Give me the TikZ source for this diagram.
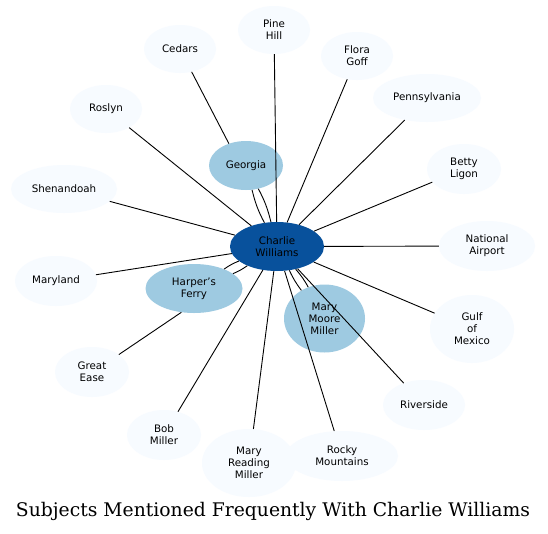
\documentclass[tikz,border=0pt]{standalone}
\usepackage{fontspec}
\setmainfont{DejaVu Sans}
\newfontfamily\titlefont{DejaVu Serif}
\definecolor{lightnode}{HTML}{F7FBFF}
\definecolor{midnode}{HTML}{9ECAE1}
\definecolor{darknode}{HTML}{08519C}
\begin{document}
\begin{tikzpicture}[x=1pt,y=-1pt,
  subj/.style={ellipse, fill=lightnode, inner sep=0pt, align=center,
    font=\fontsize{10.3}{12}\selectfont, text=black},
  midsubj/.style={subj, fill=midnode},
  hub/.style={subj, fill=darknode},
  link/.style={draw=black, line width=0.9pt}]
\usetikzlibrary{shapes.geometric}
\useasboundingbox (0,0) rectangle (548,533);
\fill[white] (0,0) rectangle (548,533);
% nodes
\node[subj, minimum width=72pt, minimum height=48pt] (pine) at (274,30) {Pine\\Hill};
\node[subj, minimum width=72pt, minimum height=48pt] (cedars) at (180,49) {Cedars};
\node[subj, minimum width=72pt, minimum height=48pt] (flora) at (357,56) {Flora\\Goff};
\node[subj, minimum width=108pt, minimum height=48pt] (penn) at (427,98) {Pennsylvania};
\node[subj, minimum width=72pt, minimum height=48pt] (roslyn) at (106,109) {Roslyn};
\node[subj, minimum width=74pt, minimum height=50pt] (betty) at (464,169) {Betty\\Ligon};
\node[subj, minimum width=106pt, minimum height=48pt] (shen) at (64,189) {Shenandoah};
\node[subj, minimum width=96pt, minimum height=50pt] (natl) at (487,246) {National\\Airport};
\node[subj, minimum width=82pt, minimum height=50pt] (maryland) at (56,281) {Maryland};
\node[subj, minimum width=84pt, minimum height=68pt] (gulf) at (472,329) {Gulf\\of\\Mexico};
\node[subj, minimum width=74pt, minimum height=50pt] (great) at (92,372) {Great\\Ease};
\node[subj, minimum width=82pt, minimum height=50pt] (river) at (424,405) {Riverside};
\node[subj, minimum width=74pt, minimum height=50pt] (bob) at (164,435) {Bob\\Miller};
\node[subj, minimum width=94pt, minimum height=68pt] (mrm) at (249,463) {Mary\\Reading\\Miller};
\node[subj, minimum width=112pt, minimum height=50pt] (rocky) at (342,456) {Rocky\\Mountains};
\node[midsubj, minimum width=74pt, minimum height=49pt] (georgia) at (246,165.5) {Georgia};
\node[midsubj, minimum width=97pt, minimum height=49pt] (harper) at (194,288.5) {Harper's\\Ferry};
\node[midsubj, minimum width=81pt, minimum height=68pt] (mmm) at (324.5,318.5) {Mary\\Moore\\Miller};
\node[hub, minimum width=94pt, minimum height=49pt] (charlie) at (277,246.5) {Charlie\\Williams};
% connectors
\draw[link] (charlie) -- (pine);
\draw[link] (charlie) -- (flora);
\draw[link] (charlie) -- (penn);
\draw[link] (charlie) -- (roslyn);
\draw[link] (charlie) -- (betty);
\draw[link] (charlie) -- (shen);
\draw[link] (charlie) -- (natl);
\draw[link] (charlie) -- (maryland);
\draw[link] (charlie) -- (gulf);
\draw[link] (charlie) -- (river);
\draw[link] (charlie) -- (bob);
\draw[link] (charlie) -- (mrm);
\draw[link] (charlie) -- (rocky);
\draw[link] (charlie) to[bend left=7] (georgia);
\draw[link] (charlie) to[bend right=7] (georgia);
\draw[link] (charlie) to[bend left=6] (harper);
\draw[link] (charlie) to[bend right=6] (harper);
\draw[link] (charlie) to[bend left=6] (mmm);
\draw[link] (charlie) to[bend right=6] (mmm);
\draw[link] (georgia.128) -- (cedars.297);
\draw[link] (harper.242) -- (great.33);
% title
\node[font=\titlefont, inner sep=0pt] (title) at (273,511) {\resizebox{514pt}{!}{Subjects Mentioned Frequently With Charlie Williams}};
\end{tikzpicture}
\end{document}
